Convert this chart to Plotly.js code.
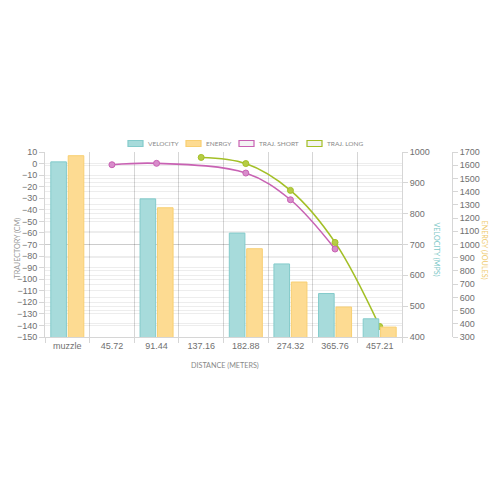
<!DOCTYPE html>
<html><head><meta charset="utf-8">
<script src="https://cdn.plot.ly/plotly-3.0.1.min.js"></script>
<style>html,body{margin:0;padding:0;background:#fff}#c{width:500px;height:500px}</style>
</head><body><div id="c"></div>
<script>
const categories = ["muzzle","45.72","91.44","137.16","182.88","274.32","365.76","457.21"];
const velocity = [968, null, 848, null, 737, 637, 541, 459];
const energy = [1672, null, 1278, null, 968, 716, 527, 375];
const trajShort = [null, -1, 0.2, null, -8.2, -31.3, -73.9, null];
const trajLong = [null, null, null, 5.3, 0, -23.2, -68.2, -140.9];

const L = 45, R = 480, T = 152, B = 337;
const px = x => (x - L) / (R - L);
const py = y => (B - y) / (B - T);

const tickFont = {family: "Liberation Sans, Arial, sans-serif", size: 9, color: "#707070"};
const grid = "rgba(0,0,0,0.07)";

const traces = [
  {type: "bar", name: "VELOCITY", x: categories, y: velocity, yaxis: "y2",
   width: 0.35, offset: -0.37,
   marker: {color: "#a7dbdb", line: {color: "#84cbcb", width: 1}}},
  {type: "bar", name: "ENERGY", x: categories, y: energy, yaxis: "y3",
   width: 0.35, offset: 0.02,
   marker: {color: "#fddb92", line: {color: "#f8cf72", width: 1}}},
  {type: "scatter", mode: "lines+markers", name: "TRAJ. SHORT", x: categories, y: trajShort,
   connectgaps: true, line: {shape: "spline", color: "#c862b3", width: 1.6},
   marker: {size: 6, color: "#d88ccb", line: {color: "#c862b3", width: 1}}},
  {type: "scatter", mode: "lines+markers", name: "TRAJ. LONG", x: categories, y: trajLong,
   connectgaps: true, line: {shape: "spline", color: "#a3bf26", width: 1.6},
   marker: {size: 6, color: "#b6cc45", line: {color: "#a3bf26", width: 1}}}
];

const legendItems = [
  {label: "VELOCITY", x: 128, fill: "#a7dbdb", line: "#84cbcb"},
  {label: "ENERGY", x: 186, fill: "#fddb92", line: "#f8cf72"},
  {label: "TRAJ. SHORT", x: 239, fill: "#f3f3f3", line: "#c862b3"},
  {label: "TRAJ. LONG", x: 307, fill: "#f3f3f3", line: "#a3bf26"}
];
const shapes = [], annotations = [];
const smallFont = {family: "Lato, Open Sans, sans-serif", size: 6.5, color: "#888"};
const titleFont = c => ({family: "Lato, Open Sans, sans-serif", size: 7.2, color: c});
legendItems.forEach(it => {
  shapes.push({type: "rect", xref: "paper", yref: "paper",
    x0: px(it.x), x1: px(it.x + 15), y0: py(146.5), y1: py(140.5),
    fillcolor: it.fill, line: {color: it.line, width: 1.2}});
  annotations.push({xref: "paper", yref: "paper", x: px(it.x + 17.5), y: py(143.5),
    xanchor: "left", yanchor: "middle", showarrow: false, text: it.label, font: smallFont});
});
annotations.push({xref: "paper", yref: "paper", x: px(10), y: py(248), textangle: -90,
  showarrow: false, text: "TRAJECTORY (CM)", font: titleFont("#999")});
annotations.push({xref: "paper", yref: "paper", x: px(443), y: py(249), textangle: 90,
  showarrow: false, text: "VELOCITY (MPS)", font: titleFont("#7cc7c7")});
annotations.push({xref: "paper", yref: "paper", x: px(491), y: py(250), textangle: 90,
  showarrow: false, text: "ENERGY (JOULES)", font: titleFont("#efca6c")});
annotations.push({xref: "paper", yref: "paper", x: px(225), y: py(365), yanchor: "middle",
  showarrow: false, text: "DISTANCE (METERS)", font: titleFont("#888")});

const layout = {
  width: 500, height: 500,
  margin: {l: L, r: 500 - R, t: T, b: 500 - B, pad: 0},
  paper_bgcolor: "#fff", plot_bgcolor: "#fff",
  showlegend: false,
  xaxis: {type: "category", domain: [0, px(402)], range: [-0.5, 7.5],
    tickson: "boundaries", showgrid: true, gridcolor: "#d6d6d6", gridwidth: 1,
    ticks: "outside", ticklen: 5, tickcolor: "#d6d6d6", tickfont: tickFont,
    showline: true, linecolor: "#d6d6d6", zeroline: false},
  yaxis: {range: [-150, 10], dtick: 10, tick0: 0, showgrid: true, gridcolor: grid,
    ticks: "outside", ticklen: 5, tickcolor: "#d6d6d6", tickfont: tickFont,
    showline: true, linecolor: "#d6d6d6", zeroline: false},
  yaxis2: {overlaying: "y", side: "right", anchor: "x", range: [400, 1000], dtick: 100,
    showgrid: true, gridcolor: grid, ticks: "outside", ticklen: 5, tickcolor: "#d6d6d6",
    tickfont: tickFont, showline: true, linecolor: "#d6d6d6", zeroline: false},
  yaxis3: {overlaying: "y", side: "right", anchor: "free", position: px(452), range: [300, 1700], dtick: 100,
    showgrid: true, gridcolor: grid, ticks: "outside", ticklen: 5, tickcolor: "#d6d6d6",
    tickfont: tickFont, showline: true, linecolor: "#d6d6d6", zeroline: false},
  shapes: shapes, annotations: annotations
};
Plotly.newPlot("c", traces, layout, {displayModeBar: false, staticPlot: true});
</script></body></html>
